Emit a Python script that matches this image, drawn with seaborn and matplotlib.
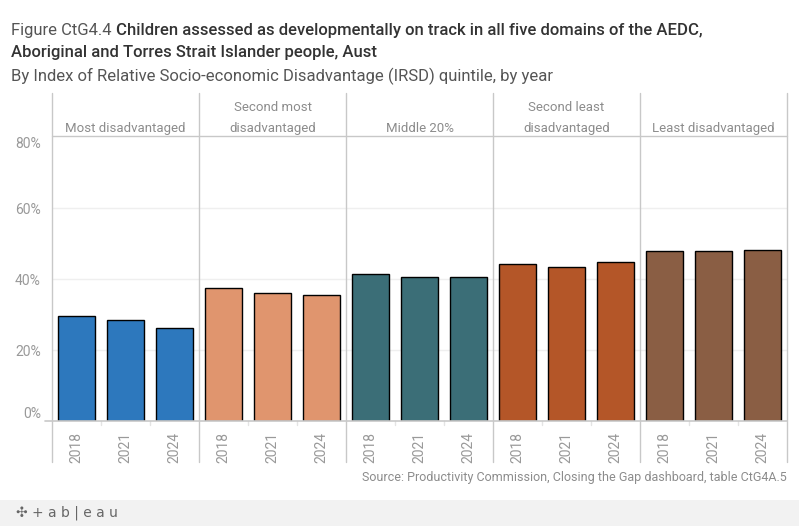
import pandas as pd
import matplotlib.pyplot as plt
import seaborn as sns
from matplotlib.ticker import FuncFormatter

# data
quintiles = ["Most disadvantaged", "Second most\ndisadvantaged", "Middle 20%",
             "Second least\ndisadvantaged", "Least disadvantaged"]
years = ["2018", "2021", "2024"]
most_dis = [29.5, 28.4, 26.1]
second_most = [37.4, 36.0, 35.4]
middle = [41.3, 40.5, 40.5]
second_least = [44.1, 43.4, 44.7]
least_dis = [47.8, 47.8, 48.1]
colors = ["#2D78BD", "#E0956E", "#3B6E77", "#B45628", "#8A5E44"]

GRAY = "#8c8c8c"
LINE = "#c8c8c8"


def build_frame():
    rows = []
    for q, vals in zip(quintiles, [most_dis, second_most, middle, second_least, least_dis]):
        for y, v in zip(years, vals):
            rows.append({"quintile": q, "year": y, "slot": f"{q}|{y}", "value": v / 100})
    return pd.DataFrame(rows)


def main():
    df = build_frame()
    sns.set_style("white")
    plt.rcParams["font.family"] = ["Roboto", "DejaVu Sans"]

    W, H = 799, 526
    fig = plt.figure(figsize=(W / 100, H / 100), dpi=100)
    x0, x1, y_top, y_bot = 52, 787, 136, 421
    ax = fig.add_axes([x0 / W, 1 - y_bot / H, (x1 - x0) / W, (y_bot - y_top) / H])

    sns.barplot(data=df, x="slot", y="value", hue="quintile", palette=colors,
                saturation=1, dodge=False, width=0.76, edgecolor="black",
                linewidth=1.0, legend=False, ax=ax, zorder=3)

    ax.set_xlim(-0.5, len(df) - 0.5)
    ax.set_ylim(0, 0.803)
    ax.set_xlabel("")
    ax.set_ylabel("")

    # y axis
    ax.set_yticks([0, 0.2, 0.4, 0.6, 0.8])
    ax.yaxis.set_major_formatter(FuncFormatter(lambda v, p: f"{v * 100:.0f}%"))
    ax.tick_params(axis="y", length=0, pad=8, labelsize=10, labelcolor="#999999")
    ylabels = ax.get_yticklabels()
    ylabels[0].set_verticalalignment("bottom")
    ylabels[-1].set_verticalalignment("top")
    for v in [0.2, 0.4, 0.6]:
        ax.axhline(v, color="#efefef", lw=1, zorder=1)
    ax.plot([-0.65, len(df) - 0.5], [0, 0], color=LINE, lw=1.2, clip_on=False, zorder=4)

    # x axis: years
    ax.set_xticks(range(len(df)))
    ax.set_xticklabels(df["year"], rotation=90, fontsize=10, color="#999999")
    ax.tick_params(axis="x", length=0, pad=8)
    for i in range(len(df) - 1):
        if (i + 1) % 3:
            ax.plot([i + 0.5, i + 0.5], [0, -0.014], color="#e4e4e4", lw=1,
                    transform=ax.get_xaxis_transform(), clip_on=False)

    for s in ax.spines.values():
        s.set_visible(False)
    ax.plot([-0.5, len(df) - 0.5], [1, 1], color=LINE, lw=1,
            transform=ax.get_xaxis_transform(), clip_on=False)

    # panel dividers and header labels
    hdr_top = 1 + (y_top - 93) / (y_bot - y_top)
    ax_bot = -(462 - y_bot) / (y_bot - y_top)
    for k in range(len(quintiles) + 1):
        xv = k * 3 - 0.5
        ax.plot([xv, xv], [ax_bot, hdr_top], color=LINE, lw=1,
                transform=ax.get_xaxis_transform(), clip_on=False)
    for k, q in enumerate(quintiles):
        ax.text(k * 3 + 1, 1.005, q, ha="center", va="bottom", fontsize=9.5,
                color=GRAY, linespacing=1.75, transform=ax.get_xaxis_transform())

    # titles
    t1 = fig.text(11 / W, 1 - 30 / H, "Figure CtG4.4 ", fontsize=12, color="#555555",
                  va="center", ha="left")
    fig.canvas.draw()
    bb = t1.get_window_extent()
    fig.text(bb.x1 / W, 1 - 30 / H,
             "Children assessed as developmentally on track in all five domains of the AEDC,",
             fontsize=12, color="#333333", weight="medium", va="center", ha="left")
    fig.text(11 / W, 1 - 53 / H, "Aboriginal and Torres Strait Islander people, Aust",
             fontsize=12, color="#333333", weight="medium", va="center", ha="left")
    fig.text(11 / W, 1 - 76 / H,
             "By Index of Relative Socio-economic Disadvantage (IRSD) quintile, by year",
             fontsize=12, color="#555555", va="center", ha="left")

    fig.text(787 / W, 1 - 478 / H,
             "Source: Productivity Commission, Closing the Gap dashboard, table CtG4A.5",
             fontsize=9, color=GRAY, ha="right", va="center")

    # footer band
    fig.patches.append(plt.Rectangle((0, 0), 1, 26 / H, transform=fig.transFigure,
                                     facecolor="#f2f2f2", edgecolor="none", zorder=0))
    fig.text(16 / W, 13 / H, "✣ + a b | e a u", fontsize=10, color="#666666",
             ha="left", va="center", family=["DejaVu Sans"])

    fig.savefig("out.png", dpi=100)


if __name__ == "__main__":
    main()
